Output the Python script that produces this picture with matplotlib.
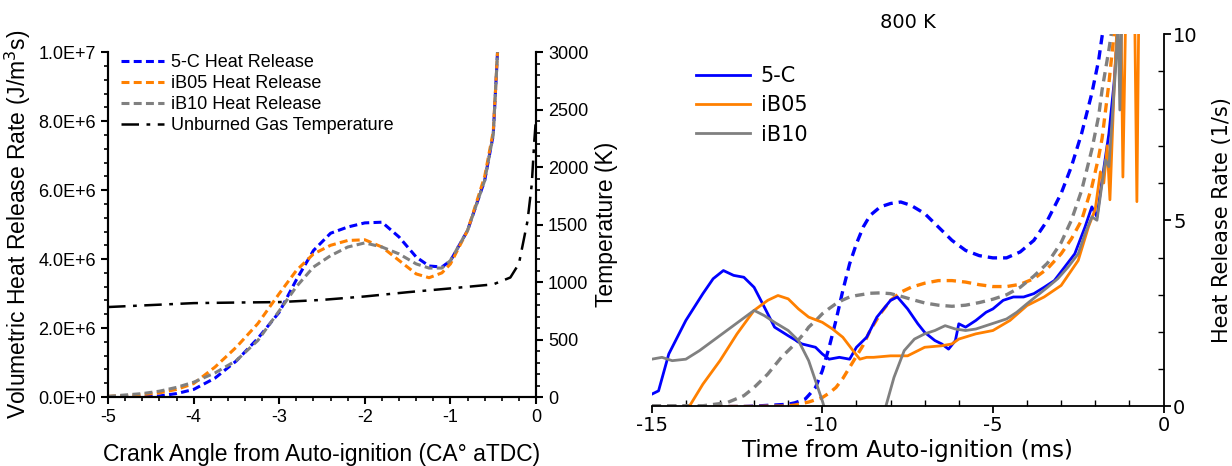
import numpy as np
import matplotlib
matplotlib.use('Agg')
import matplotlib.pyplot as plt
from matplotlib.ticker import MultipleLocator, FuncFormatter

# ---- crank-angle data (left panel) ----
ca_hr = [-5.0, -4.8, -4.6, -4.4, -4.2, -4.0, -3.75, -3.5, -3.25, -3.0, -2.8, -2.6, -2.4, -2.2,
         -2.0, -1.8, -1.6, -1.4, -1.25, -1.1, -1.0, -0.8, -0.6, -0.5, -0.45]
hr_5c = [0.0, 0.0, 0.01, 0.03, 0.1, 0.22, 0.55, 1.05, 1.7, 2.46, 3.4, 4.25, 4.75, 4.93,
         5.05, 5.07, 4.64, 4.06, 3.8, 3.77, 3.95, 4.83, 6.28, 7.6, 10.0]
hr_ib05 = [0.02, 0.04, 0.07, 0.12, 0.22, 0.39, 0.87, 1.45, 2.13, 3.0, 3.67, 4.15, 4.4, 4.54,
           4.56, 4.35, 3.96, 3.57, 3.46, 3.6, 3.86, 4.83, 6.4, 7.7, 10.0]
hr_ib10 = [0.02, 0.06, 0.1, 0.17, 0.28, 0.43, 0.7, 1.06, 1.64, 2.5, 3.2, 3.77, 4.1, 4.35,
           4.47, 4.35, 4.15, 3.86, 3.74, 3.74, 3.96, 4.83, 6.28, 7.6, 10.0]

ca_t = [-5.0, -4.5, -4.0, -3.5, -3.0, -2.5, -2.0, -1.5, -1.0, -0.5, -0.3, -0.2, -0.1, -0.05, -0.02, 0.0]
t_unburned = [783, 800, 817, 822, 826, 845, 875, 912, 945, 980, 1040, 1160, 1530, 1850, 2230, 2430]

# ---- time data (right panel) ----
t_5c = [-15.0, -14.8, -14.5, -14.0, -13.5, -13.2, -12.9, -12.6, -12.3, -12.0, -11.7, -11.4, -11.0,
        -10.6, -10.2, -10.0, -9.8, -9.5, -9.2, -9.0, -8.7, -8.4, -8.0, -7.8, -7.5, -7.2, -7.0,
        -6.7, -6.5, -6.3, -6.1, -6.0, -5.8, -5.5, -5.2, -5.0, -4.7, -4.4, -4.1, -3.8, -3.5,
        -3.2, -2.9, -2.6, -2.3, -2.1, -1.95, -1.8, -1.6, -1.45, -1.35, -1.3]
hrr_5c = [0.33, 0.42, 1.41, 2.31, 3.03, 3.43, 3.65, 3.52, 3.47, 3.2, 2.67, 2.13, 1.9,
          1.68, 1.59, 1.41, 1.27, 1.32, 1.27, 1.59, 1.86, 2.4, 2.85, 2.94, 2.62, 2.22, 1.99,
          1.77, 1.68, 1.54, 1.77, 2.22, 2.13, 2.31, 2.53, 2.62, 2.85, 2.94, 2.94, 3.03, 3.2,
          3.38, 3.74, 4.1, 4.82, 5.36, 5.09, 6.08, 7.33, 8.68, 10.0, 11.0]

t_ib05 = [-13.9, -13.5, -13.0, -12.5, -12.0, -11.6, -11.3, -11.0, -10.7, -10.4, -10.0, -9.7,
          -9.4, -9.1, -8.9, -8.7, -8.5, -8.0, -7.5, -7.0, -6.5, -6.2, -6.0, -5.5, -5.0, -4.5,
          -4.0, -3.5, -3.0, -2.5, -2.2, -2.0, -1.85, -1.75, -1.65, -1.57, -1.45, -1.35, -1.25,
          -1.19, -1.1, -0.95, -0.85, -0.78, -0.72]
hrr_ib05 = [0.0, 0.6, 1.23, 1.95, 2.58, 2.85, 2.98, 2.89, 2.62, 2.4, 2.26, 2.08,
            1.86, 1.5, 1.27, 1.32, 1.32, 1.36, 1.36, 1.59, 1.63, 1.68, 1.81, 1.95, 2.04, 2.31,
            2.71, 2.94, 3.25, 3.92, 4.82, 5.3, 6.3, 6.0, 7.0, 5.55, 8.5, 10.5, 11.0,
            6.16, 11.0, 11.0, 11.0, 5.5, 11.0]

t_ib10 = [-15.0, -14.7, -14.4, -14.0, -13.6, -13.2, -12.8, -12.4, -12.0, -11.7, -11.4, -11.0,
          -10.7, -10.4, -10.2, -10.0, -9.95, -9.0,
          -8.14, -7.9, -7.6, -7.3, -7.0, -6.7, -6.4, -6.1, -5.8, -5.5, -5.2, -4.9, -4.6, -4.3,
          -4.0, -3.7, -3.4, -3.1, -2.8, -2.5, -2.3, -2.1, -1.95, -1.8, -1.7, -1.6, -1.5, -1.4,
          -1.33, -1.28, -1.22, -1.15]
hrr_ib10 = [1.27, 1.32, 1.23, 1.27, 1.5, 1.77, 2.04, 2.31, 2.58, 2.44, 2.26, 2.04,
            1.77, 1.23, 0.69, 0.15, 0.0, np.nan,
            0.0, 0.78, 1.5, 1.81, 1.95, 2.04, 2.17, 2.08, 2.04, 2.08, 2.17, 2.26, 2.35, 2.53,
            2.76, 2.98, 3.2, 3.43, 3.74, 4.1, 4.64, 5.09, 5.0, 5.99, 6.62, 6.44, 7.78, 9.13,
            10.5, 7.96, 10.5, 11.0]

t_sim = [-15.0, -13.5, -12.8, -12.3, -12.0, -11.6, -11.2, -11.0, -10.8, -10.5, -10.4, -10.2,
         -10.0, -9.8, -9.6, -9.4, -9.2, -9.0, -8.8, -8.6, -8.3, -8.0, -7.7, -7.4, -7.0, -6.6,
         -6.2, -5.8, -5.4, -5.0, -4.6, -4.2, -3.8, -3.4, -3.0, -2.7, -2.4, -2.1, -1.9, -1.8,
         -1.6, -1.45, -1.3]
sim_5c = [0.0, 0.0, 0.0, 0.0, 0.01, 0.03, 0.05, 0.06, 0.1, 0.2, 0.3, 0.51,
          0.96, 1.59, 2.31, 3.11, 3.83, 4.37, 4.82, 5.13, 5.36, 5.45, 5.49, 5.4, 5.18, 4.82,
          4.46, 4.19, 4.05, 3.99, 3.99, 4.15, 4.46, 5.0, 5.72, 6.44, 7.33, 8.41, 9.3, 9.94,
          11.0, 12.0, 12.0]
sim_ib05 = [0.0, 0.0, 0.0, 0.0, 0.0, 0.01, 0.01, 0.02, 0.04, 0.1, 0.12, 0.18,
            0.24, 0.36, 0.51, 0.75, 1.05, 1.35, 1.65, 2.04, 2.49, 2.85, 3.07, 3.2, 3.31, 3.38,
            3.38, 3.34, 3.27, 3.22, 3.22, 3.28, 3.43, 3.7, 4.1, 4.5, 5.0, 5.9, 6.7, 7.2,
            8.68, 10.0, 11.5]
sim_ib10 = [0.02, 0.02, 0.1, 0.29, 0.51, 0.87, 1.32, 1.5, 1.68, 2.0, 2.13, 2.3,
            2.49, 2.63, 2.76, 2.86, 2.94, 2.98, 3.01, 3.04, 3.05, 3.03, 2.96, 2.88, 2.78, 2.72,
            2.69, 2.72, 2.79, 2.88, 3.0, 3.2, 3.5, 3.85, 4.4, 5.0, 5.8, 6.9, 7.8, 8.5,
            9.58, 10.5, 11.5]

blue = '#0000ff'
orange = '#ff8000'
gray = '#808080'

fig = plt.figure(figsize=(12.32, 4.66), dpi=100)

# ================= left panel =================
arial = 'Liberation Sans'
ax1 = fig.add_axes([0.0877, 0.148, 0.3474, 0.740])
ax2 = ax1.twinx()

dash = (0, (2.6, 1.4))
l1, = ax1.plot(ca_hr, np.array(hr_5c) * 1e6, color=blue, lw=2.2, linestyle=dash, label='5-C Heat Release')
l2, = ax1.plot(ca_hr, np.array(hr_ib05) * 1e6, color=orange, lw=2.2, linestyle=dash, label='iB05 Heat Release')
l3, = ax1.plot(ca_hr, np.array(hr_ib10) * 1e6, color=gray, lw=2.2, linestyle=dash, label='iB10 Heat Release')
l4, = ax2.plot(ca_t, t_unburned, color='black', lw=1.8, linestyle=(0, (7, 3, 1.5, 3)),
               label='Unburned Gas Temperature')

ax1.set_xlim(-5, 0)
ax1.set_ylim(0, 1e7)
ax2.set_ylim(0, 3000)
ax1.xaxis.set_major_locator(MultipleLocator(1))
ax1.xaxis.set_minor_locator(MultipleLocator(0.2))
ax1.yaxis.set_major_locator(MultipleLocator(2e6))
ax1.yaxis.set_minor_locator(MultipleLocator(4e5))
ax2.yaxis.set_major_locator(MultipleLocator(500))
ax2.yaxis.set_minor_locator(MultipleLocator(100))


def sci_fmt(v, pos):
    mant, ex = f'{v:.1E}'.split('E')
    return f'{mant}E+{int(ex)}'


ax1.yaxis.set_major_formatter(FuncFormatter(sci_fmt))
ax1.xaxis.set_major_formatter(FuncFormatter(lambda v, p: f'{v:g}'))

for ax in (ax1, ax2):
    ax.spines['top'].set_visible(False)
    for s in ax.spines.values():
        s.set_linewidth(1.5)
    ax.tick_params(which='major', direction='out', length=5, width=1.5, labelsize=13)
    ax.tick_params(which='minor', direction='out', length=3, width=1.2)
    for t in ax.get_xticklabels() + ax.get_yticklabels():
        t.set_family(arial)

ax1.set_xlabel('Crank Angle from Auto-ignition (CA° aTDC)', fontsize=16.5, family=arial, labelpad=12)
ax1.set_ylabel('Volumetric Heat Release Rate (J/m$^3$s)', fontsize=16.5, family=arial, labelpad=4)
ax2.set_ylabel('Temperature (K)', fontsize=16.5, family=arial, labelpad=5)
ax1.yaxis.label.set_math_fontfamily('dejavusans')

ax1.legend(handles=[l1, l2, l3, l4], loc='upper left', bbox_to_anchor=(0.0, 1.03), frameon=False,
           prop={'family': arial, 'size': 13}, handlelength=2.4, handletextpad=0.4,
           labelspacing=0.22, borderaxespad=0.3)

# ================= right panel =================
ax3 = fig.add_axes([0.529, 0.1277, 0.4154, 0.7993])
dash2 = (0, (2.8, 1.8))
ax3.plot(t_sim, sim_5c, color=blue, lw=2.4, linestyle=dash2)
ax3.plot(t_sim, sim_ib05, color=orange, lw=2.4, linestyle=dash2)
ax3.plot(t_sim, sim_ib10, color=gray, lw=2.4, linestyle=dash2)
ax3.plot(t_5c, hrr_5c, color=blue, lw=2.0, label='5-C')
ax3.plot(t_ib05, hrr_ib05, color=orange, lw=2.0, label='iB05')
ax3.plot(t_ib10, hrr_ib10, color=gray, lw=2.0, label='iB10')

ax3.set_xlim(-15, 0)
ax3.set_ylim(0, 10)
ax3.xaxis.set_major_locator(MultipleLocator(5))
ax3.xaxis.set_minor_locator(MultipleLocator(1))
ax3.yaxis.set_major_locator(MultipleLocator(5))
ax3.yaxis.set_minor_locator(MultipleLocator(1))
ax3.yaxis.tick_right()
ax3.yaxis.set_label_position('right')
ax3.spines['top'].set_visible(False)
ax3.spines['left'].set_visible(False)
for s in ax3.spines.values():
    s.set_linewidth(1.3)
ax3.tick_params(which='major', direction='out', length=5, width=1.3, labelsize=14, pad=2)
ax3.tick_params(which='minor', direction='in', length=4, width=1.0)
ax3.xaxis.set_major_formatter(FuncFormatter(lambda v, p: f'{v:g}'))
ax3.yaxis.set_major_formatter(FuncFormatter(lambda v, p: f'{v:g}'))

ax3.set_xlabel('Time from Auto-ignition (ms)', fontsize=16.5, labelpad=3)
ax3.set_ylabel('Heat Release Rate (1/s)', fontsize=15, labelpad=10)
ax3.set_title('800 K', fontsize=14, pad=4)
ax3.legend(loc='upper left', bbox_to_anchor=(0.05, 0.965), frameon=False, fontsize=15,
           handlelength=2.6, handletextpad=0.5, labelspacing=0.45)

fig.savefig('out.png', dpi=100)
